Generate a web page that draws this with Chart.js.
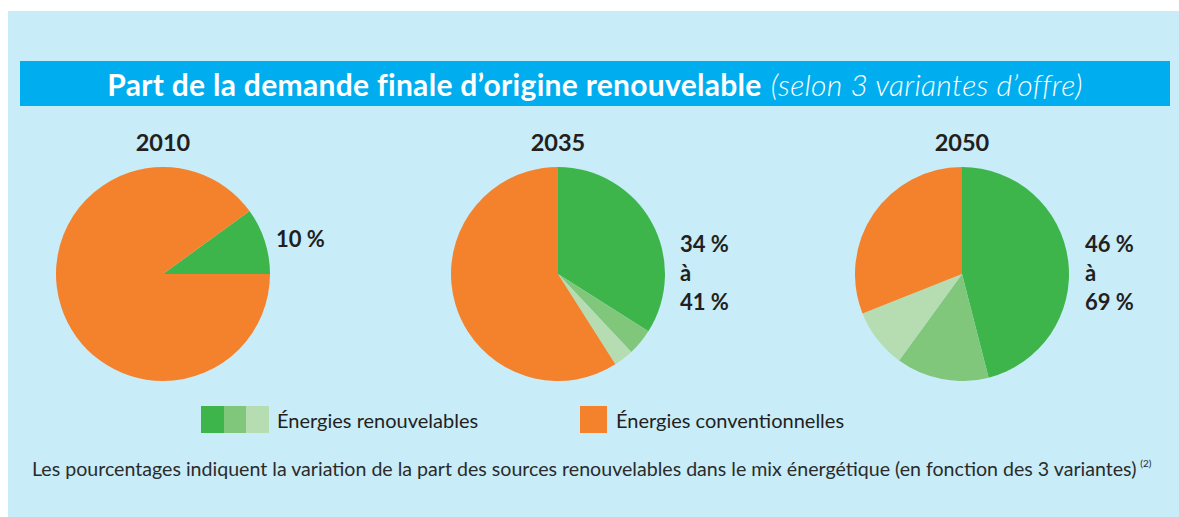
<!DOCTYPE html>
<html lang="fr">
<head>
<meta charset="utf-8">
<script src="https://cdn.jsdelivr.net/npm/chart.js@4.4.1/dist/chart.umd.min.js"></script>
<style>
  html, body { margin: 0; padding: 0; background: #ffffff; }
  body { width: 1179px; height: 517px; position: relative; overflow: hidden; font-family: "Lato", "Open Sans", sans-serif; color: #231f20; }
  #panel { position: absolute; left: 8px; top: 11px; width: 1171px; height: 506px; background: #c8ecf8; }
  #banner { position: absolute; left: 20px; top: 61px; width: 1150px; height: 45px; background: #00aeef; color: #fff;
            display: flex; align-items: center; justify-content: center; font-size: 30px; letter-spacing: 0.3px; white-space: nowrap; }
  #banner b { font-weight: 700; }
  #banner i { font-weight: 300; font-style: italic; margin-left: 9px; }
  .year { position: absolute; top: 128px; width: 120px; text-align: center; font-weight: 700; font-size: 23.5px; }
  .pie { position: absolute; top: 167px; width: 214px; height: 214px; }
  .range { position: absolute; font-weight: 700; font-size: 22px; line-height: 29px; }
  .legend { position: absolute; top: 406px; height: 27px; display: flex; align-items: center; font-size: 20px; }
  .sw { display: inline-block; height: 27px; }
  #foot { position: absolute; left: 32px; top: 457px; font-size: 19.6px; white-space: nowrap; color: #2b2b2b; }
  #foot sup { font-size: 10px; vertical-align: 9px; margin-left: 4px; }
</style>
</head>
<body>
<div id="panel"></div>
<div id="banner"><b>Part de la demande finale d’origine renouvelable</b><i>(selon 3 variantes d’offre)</i></div>
<div id="stage"></div>
<div class="legend" id="legRenew" style="left:201px"></div>
<div class="legend" id="legConv" style="left:580px"></div>
<div id="foot">Les pourcentages indiquent la variation de la part des sources renouvelables dans le mix énergétique (en fonction des 3 variantes)<sup>(2)</sup></div>
<script>
// ---- Data ----
const years = ['2010', '2035', '2050'];
const categories = ['Énergies renouvelables (variante 1)', 'Énergies renouvelables (variante 2)', 'Énergies renouvelables (variante 3)', 'Énergies conventionnelles'];
const renewableBase = [10, 34, 46];
const renewableExtra2 = [0, 4, 14];
const renewableExtra3 = [0, 3, 9];
const conventional = [90, 59, 31];
const rangeLabels = [['10 %'], ['34 %', 'à', '41 %'], ['46 %', 'à', '69 %']];
const legendLabels = ['Énergies renouvelables', 'Énergies conventionnelles'];

// ---- Styles ----
const colors = ['#3db54b', '#80c77b', '#b5ddb1', '#f4812b'];
const centersX = [163, 558, 962];
const rotations = [54, 0, 0];
const labelPos = [{x: 276, y: 224}, {x: 680, y: 229}, {x: 1085, y: 229}];

const stage = document.getElementById('stage');
years.forEach((yr, i) => {
  const t = document.createElement('div');
  t.className = 'year';
  t.style.left = (centersX[i] - 60) + 'px';
  t.textContent = yr;
  stage.appendChild(t);

  const c = document.createElement('canvas');
  c.className = 'pie';
  c.width = 214; c.height = 214;
  c.style.left = (centersX[i] - 107) + 'px';
  stage.appendChild(c);

  new Chart(c, {
    type: 'pie',
    data: {
      labels: categories,
      datasets: [{
        data: [renewableBase[i], renewableExtra2[i], renewableExtra3[i], conventional[i]],
        backgroundColor: colors,
        borderWidth: 0
      }]
    },
    options: {
      responsive: false,
      animation: false,
      rotation: rotations[i],
      layout: { padding: 0 },
      plugins: { legend: { display: false }, tooltip: { enabled: false } }
    }
  });

  const r = document.createElement('div');
  r.className = 'range';
  r.style.left = labelPos[i].x + 'px';
  r.style.top = labelPos[i].y + 'px';
  r.innerHTML = rangeLabels[i].join('<br>');
  stage.appendChild(r);
});

// legend
const lr = document.getElementById('legRenew');
[0, 1, 2].forEach(k => {
  const s = document.createElement('span');
  s.className = 'sw'; s.style.width = '22.7px'; s.style.background = colors[k];
  lr.appendChild(s);
});
const lt = document.createElement('span'); lt.textContent = legendLabels[0]; lt.style.marginLeft = '8px';
lr.appendChild(lt);
const lc = document.getElementById('legConv');
const s2 = document.createElement('span'); s2.className = 'sw'; s2.style.width = '27px'; s2.style.background = colors[3];
lc.appendChild(s2);
const lt2 = document.createElement('span'); lt2.textContent = legendLabels[1]; lt2.style.marginLeft = '9px';
lc.appendChild(lt2);
</script>
</body>
</html>
